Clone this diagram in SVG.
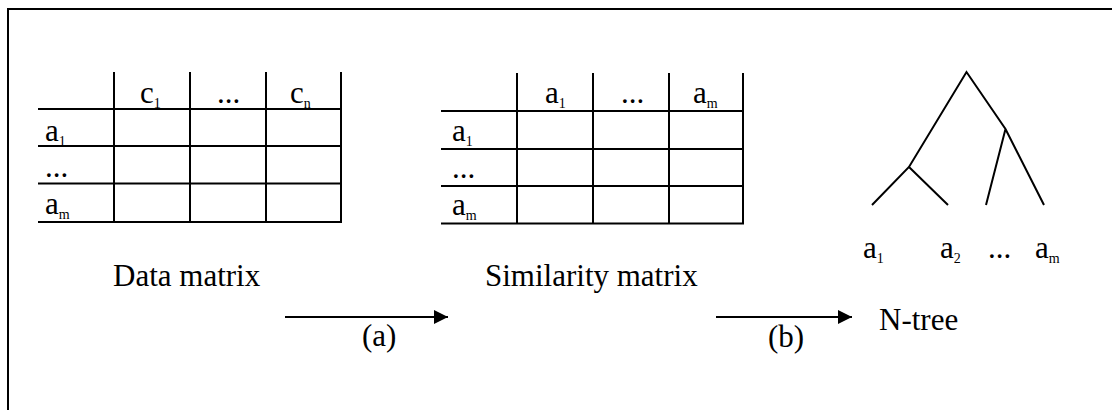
<svg xmlns="http://www.w3.org/2000/svg" width="1112" height="410" viewBox="0 0 1112 410">
<defs>
<style>
text{font-family:"Liberation Serif","Times New Roman",serif;fill:#000}
.t{font-size:31px}
.s{font-size:14px}
.ln{stroke:#000;stroke-width:2;fill:none}
</style>
<marker id="ah" markerWidth="14" markerHeight="14" refX="14" refY="7" orient="auto" markerUnits="userSpaceOnUse">
<path d="M0,0 L14,7 L0,14 Z" fill="#000"/>
</marker>
</defs>
<rect width="1112" height="410" fill="#fff"/>
<path class="ln" d="M8,410 V9 H1112"/>

<g id="data-matrix">
<path class="ln" d="M114,72 V222 M190,72 V222 M266,72 V222 M341,72 V222 M38,109 H342 M38,146 H342 M38,183.5 H342 M38,222 H342"/>
<text class="t" x="140" y="103">c<tspan class="s" dy="5">1</tspan></text>
<text class="t" x="217" y="103">...</text>
<text class="t" x="290" y="103">c<tspan class="s" dy="5">n</tspan></text>
<text class="t" x="45" y="141">a<tspan class="s" dy="5">1</tspan></text>
<text class="t" x="45" y="177">...</text>
<text class="t" x="45" y="214">a<tspan class="s" dy="5">m</tspan></text>
<text class="t" x="113" y="286">Data matrix</text>
</g>

<g id="similarity-matrix">
<path class="ln" d="M517,73 V224 M593,73 V224 M669,73 V224 M743,73 V224 M441,111 H744 M441,149 H744 M441,186 H744 M441,223.5 H744"/>
<text class="t" x="545" y="103">a<tspan class="s" dy="5">1</tspan></text>
<text class="t" x="621" y="103">...</text>
<text class="t" x="693" y="103">a<tspan class="s" dy="5">m</tspan></text>
<text class="t" x="452" y="141">a<tspan class="s" dy="5">1</tspan></text>
<text class="t" x="452" y="178">...</text>
<text class="t" x="452" y="215">a<tspan class="s" dy="5">m</tspan></text>
<text class="t" x="485" y="286">Similarity matrix</text>
</g>

<g id="n-tree">
<path class="ln" d="M872,205 L909,167 L966.5,72 L1005.5,129 L1044,205 M909,167 L948,205 M1005.5,129 L986,205"/>
<text class="t" x="863" y="258">a<tspan class="s" dy="5">1</tspan></text>
<text class="t" x="940" y="258">a<tspan class="s" dy="5">2</tspan></text>
<text class="t" x="988" y="258">...</text>
<text class="t" x="1035" y="258">a<tspan class="s" dy="5">m</tspan></text>
<text class="t" x="879" y="330">N-tree</text>
</g>

<g id="connectors">
<line class="ln" x1="285" y1="317" x2="448" y2="317" marker-end="url(#ah)"/>
<line class="ln" x1="716" y1="317" x2="852" y2="317" marker-end="url(#ah)"/>
<text class="t" x="362" y="346">(a)</text>
<text class="t" x="768" y="347">(b)</text>
</g>
</svg>
